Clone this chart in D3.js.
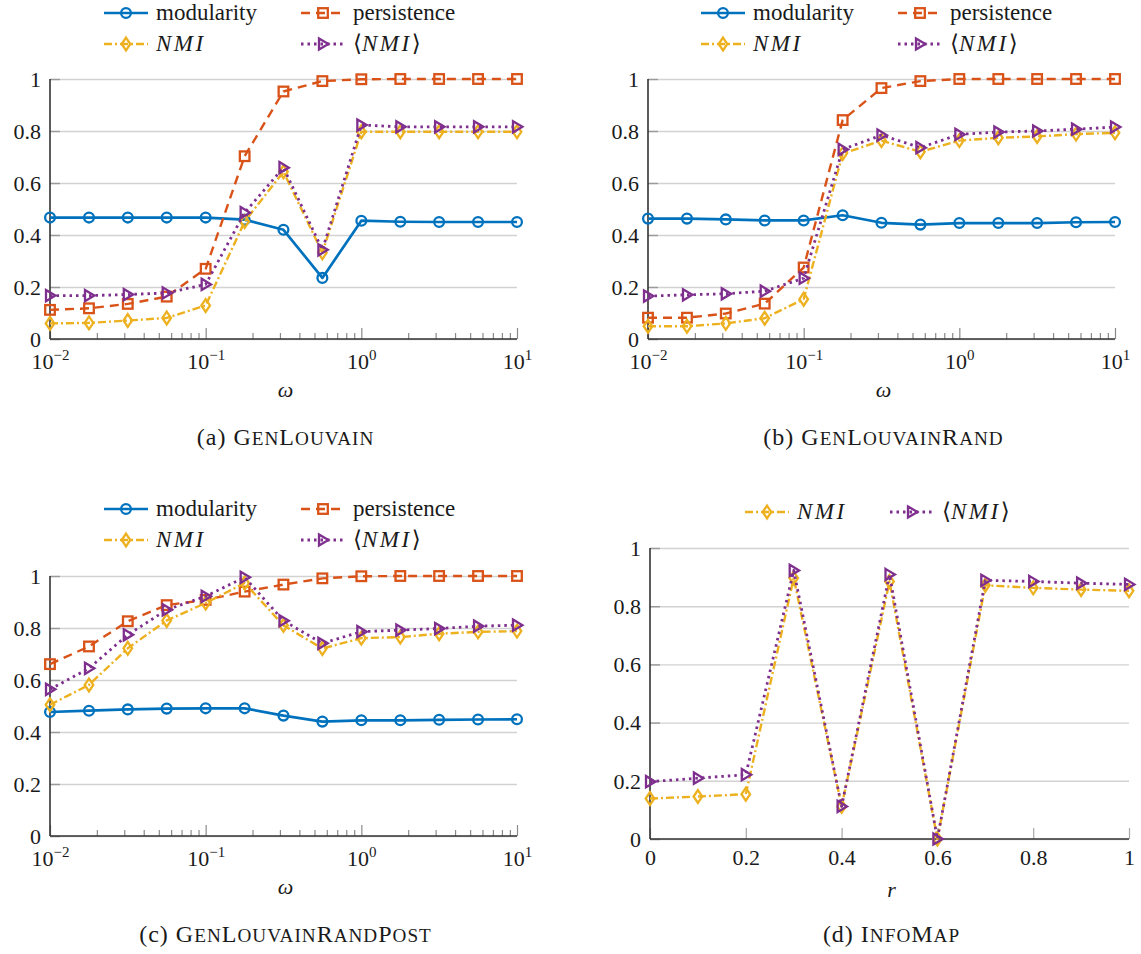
<!DOCTYPE html>
<html>
<head>
<meta charset="utf-8">
<script src="https://cdn.jsdelivr.net/npm/d3@7"></script>
<style>
  body { margin: 0; background: #fff; }
  svg text { font-family: "Times New Roman", Times, "DejaVu Serif", serif; fill: #1a1a1a; }
</style>
</head>
<body>
<div id="wrapper"></div>
<script>
// x values
const omega = [0.01, 0.0178, 0.0316, 0.0562, 0.1, 0.178, 0.316, 0.562, 1, 1.78, 3.16, 5.62, 10]
const rValues = [0, 0.1, 0.2, 0.3, 0.4, 0.5, 0.6, 0.7, 0.8, 0.9, 1]

// (a) GenLouvain
const aModularity  = [0.467, 0.467, 0.467, 0.467, 0.467, 0.459, 0.420, 0.235, 0.455, 0.451, 0.450, 0.450, 0.450]
const aPersistence = [0.112, 0.118, 0.135, 0.163, 0.270, 0.703, 0.952, 0.992, 0.999, 1.000, 1.000, 1.000, 1.000]
const aNMI         = [0.060, 0.062, 0.071, 0.081, 0.129, 0.452, 0.643, 0.332, 0.797, 0.797, 0.797, 0.797, 0.797]
const aMeanNMI     = [0.167, 0.167, 0.171, 0.177, 0.210, 0.486, 0.659, 0.343, 0.823, 0.816, 0.816, 0.816, 0.816]

// (b) GenLouvainRand
const bModularity  = [0.463, 0.463, 0.460, 0.456, 0.456, 0.476, 0.447, 0.440, 0.446, 0.446, 0.446, 0.449, 0.450]
const bPersistence = [0.082, 0.082, 0.098, 0.136, 0.275, 0.842, 0.965, 0.992, 1.000, 1.000, 1.000, 1.000, 1.000]
const bNMI         = [0.049, 0.049, 0.060, 0.080, 0.153, 0.713, 0.763, 0.720, 0.763, 0.774, 0.779, 0.788, 0.793]
const bMeanNMI     = [0.165, 0.170, 0.174, 0.184, 0.234, 0.729, 0.784, 0.736, 0.787, 0.796, 0.800, 0.807, 0.815]

// (c) GenLouvainRandPost
const cModularity  = [0.477, 0.482, 0.487, 0.490, 0.491, 0.491, 0.463, 0.440, 0.445, 0.445, 0.447, 0.448, 0.449]
const cPersistence = [0.661, 0.729, 0.826, 0.888, 0.908, 0.940, 0.967, 0.991, 0.999, 1.000, 1.000, 1.000, 1.000]
const cNMI         = [0.505, 0.581, 0.722, 0.829, 0.896, 0.973, 0.810, 0.721, 0.761, 0.765, 0.778, 0.785, 0.788]
const cMeanNMI     = [0.564, 0.645, 0.774, 0.870, 0.922, 0.995, 0.828, 0.741, 0.786, 0.792, 0.798, 0.807, 0.811]

// (d) InfoMap
const dNMI     = [0.139, 0.146, 0.154, 0.897, 0.112, 0.885, 0.000, 0.872, 0.863, 0.857, 0.853]
const dMeanNMI = [0.197, 0.209, 0.221, 0.923, 0.112, 0.909, 0.000, 0.889, 0.885, 0.879, 0.875]

const yTicks = [0, 0.2, 0.4, 0.6, 0.8, 1]
const logMajor = [0.01, 0.1, 1, 10]
const logExp = ["\u22122", "\u22121", "0", "1"]
const linTicks = [0, 0.2, 0.4, 0.6, 0.8, 1]

// series styles
const styles = {
  modularity:  { label: "modularity",  color: "#0072BD", dash: null,          width: 2.7, marker: "circle" },
  persistence: { label: "persistence", color: "#D95319", dash: "9,6",         width: 2.4, marker: "square" },
  nmi:         { label: "NMI",         color: "#EDB120", dash: "8,3,2,3",     width: 2.4, marker: "diamond", italic: true },
  meanNmi:     { label: "NMI",         color: "#7E2F8E", dash: "2.5,4",       width: 2.8, marker: "triangle", italic: true, brackets: true }
}

const FONT = "'Times New Roman', Times, 'DejaVu Serif', serif"

const svg = d3.select("#wrapper")
  .append("svg")
    .attr("width", 1141)
    .attr("height", 954)
    .style("display", "block")

svg.append("rect").attr("width", 1141).attr("height", 954).attr("fill", "#fff")

function drawMarker(g, type, cx, cy, color) {
  const m = g.append("g").attr("transform", `translate(${cx},${cy})`)
  const common = s => s.attr("fill", "none").attr("stroke", color).attr("stroke-width", 2.3)
  if (type === "circle") {
    common(m.append("circle").attr("r", 4.9))
  } else if (type === "square") {
    common(m.append("rect").attr("x", -4.8).attr("y", -4.8).attr("width", 9.6).attr("height", 9.6))
  } else if (type === "diamond") {
    common(m.append("path").attr("d", "M0,-6.4L4.3,0L0,6.4L-4.3,0Z"))
  } else {
    common(m.append("path").attr("d", "M-4,-5.6L5.4,0L-4,5.6Z"))
  }
}

function labelText(sel, st) {
  if (st.brackets) {
    sel.append("tspan").text("\u27E8")
    sel.append("tspan").style("font-style", "italic").attr("letter-spacing", 2.5).text(st.label)
    sel.append("tspan").text("\u27E9")
  } else if (st.italic) {
    sel.append("tspan").style("font-style", "italic").attr("letter-spacing", 2.5).text(st.label)
  } else {
    sel.text(st.label)
  }
}

// small caps: lowercase letters drawn as reduced capitals
function smallCaps(sel, str) {
  str.split("").forEach(ch => {
    const lower = ch !== ch.toUpperCase()
    sel.append("tspan")
      .style("font-size", lower ? "0.8em" : "1em")
      .text(ch.toUpperCase())
  })
}

function drawLegend(items) {
  items.forEach(it => {
    const st = styles[it.key]
    const g = svg.append("g")
    g.append("line")
      .attr("x1", it.x).attr("x2", it.x + 44)
      .attr("y1", it.y).attr("y2", it.y)
      .attr("stroke", st.color)
      .attr("stroke-width", st.width)
      .attr("stroke-dasharray", st.dash)
    drawMarker(g, st.marker, it.x + 22, it.y, st.color)
    const t = g.append("text")
      .attr("x", it.x + 52)
      .attr("y", it.y + 7)
      .style("font-size", "23px")
    labelText(t, st)
  })
}

function drawPanel(p) {
  const bounds = svg.append("g")
  const xScale = p.log
    ? d3.scaleLog().domain([0.01, 10]).range([p.x0, p.x1])
    : d3.scaleLinear().domain([0, 1]).range([p.x0, p.x1])
  const yScale = d3.scaleLinear().domain([0, 1]).range([p.y0, p.y1])
  const w = p.x1 - p.x0

  // grid lines + y labels
  const grid = bounds.append("g")
    .attr("transform", `translate(${p.x0},0)`)
    .call(d3.axisLeft(yScale).tickValues(yTicks).tickSize(-w).tickFormat(d => d))
  grid.attr("font-family", FONT)
  grid.select(".domain").remove()
  grid.selectAll(".tick line").attr("stroke", "#d2d2d2").attr("stroke-width", 1.4)
  grid.selectAll(".tick text")
    .attr("x", -9)
    .attr("dy", "0.33em")
    .style("font-size", "22px")

  // y tick stubs inside
  const yStubs = bounds.append("g")
    .attr("transform", `translate(${p.x0},0)`)
    .call(d3.axisLeft(yScale).tickValues(yTicks).tickSize(-10).tickFormat(""))
  yStubs.select(".domain").remove()
  yStubs.selectAll(".tick line").attr("stroke", "#9a9a9a").attr("stroke-width", 1.4)

  // x ticks
  if (p.log) {
    const minor = []
    for (let e = -2; e < 1; e++) for (let k = 2; k <= 9; k++) minor.push(k * Math.pow(10, e))
    const minorAxis = bounds.append("g")
      .attr("transform", `translate(0,${p.y0})`)
      .call(d3.axisBottom(xScale).tickValues(minor).tickSize(-6).tickFormat(""))
    minorAxis.select(".domain").remove()
    minorAxis.selectAll(".tick line").attr("stroke", "#8a8a8a").attr("stroke-width", 1.2)

    const majorAxis = bounds.append("g")
      .attr("transform", `translate(0,${p.y0})`)
      .call(d3.axisBottom(xScale).tickValues(logMajor).tickSize(-11).tickFormat(""))
    majorAxis.attr("font-family", FONT)
    majorAxis.select(".domain").remove()
    majorAxis.selectAll(".tick line").attr("stroke", "#8a8a8a").attr("stroke-width", 1.2)
    majorAxis.selectAll(".tick").each(function(d, i) {
      const t = d3.select(this).append("text")
        .attr("y", 30)
        .attr("text-anchor", "middle")
        .style("font-size", "22px")
      t.append("tspan").text("10")
      t.append("tspan").attr("dy", -9).style("font-size", "15px").text(logExp[i])
    })
  } else {
    const xAxis = bounds.append("g")
      .attr("transform", `translate(0,${p.y0})`)
      .call(d3.axisBottom(xScale).tickValues(linTicks).tickSize(-11).tickFormat(d => d))
    xAxis.attr("font-family", FONT)
    xAxis.select(".domain").remove()
    xAxis.selectAll(".tick line").attr("stroke", "#a8a8a8").attr("stroke-width", 1.2)
    xAxis.selectAll(".tick text")
      .attr("y", 10)
      .style("font-size", "22px")
  }

  // axis lines
  bounds.append("line")
    .attr("x1", p.x0).attr("x2", p.x0).attr("y1", p.y0).attr("y2", p.y1)
    .attr("stroke", "#333").attr("stroke-width", 1.6)
  bounds.append("line")
    .attr("x1", p.x0).attr("x2", p.x1).attr("y1", p.y0).attr("y2", p.y0)
    .attr("stroke", "#333").attr("stroke-width", 1.6)

  // series
  const lineGen = d3.line()
    .x(d => xScale(d[0]))
    .y(d => yScale(d[1]))
  p.series.forEach(s => {
    const st = styles[s.key]
    const pts = p.xs.map((x, i) => [x, s.values[i]])
    bounds.append("path")
      .datum(pts)
      .attr("d", lineGen)
      .attr("fill", "none")
      .attr("stroke", st.color)
      .attr("stroke-width", st.width)
      .attr("stroke-dasharray", st.dash)
      .attr("stroke-linejoin", "round")
    pts.forEach(pt => drawMarker(bounds, st.marker, xScale(pt[0]), yScale(pt[1]), st.color))
  })

  // x axis label
  bounds.append("text")
    .attr("x", (p.x0 + p.x1) / 2 + 2)
    .attr("y", p.y0 + 58)
    .attr("text-anchor", "middle")
    .style("font-size", "22px")
    .style("font-style", "italic")
    .text(p.xLabel)

  // caption
  const cap = bounds.append("text")
    .attr("x", (p.x0 + p.x1) / 2 + 2)
    .attr("y", p.capY)
    .attr("text-anchor", "middle")
    .attr("letter-spacing", 1)
    .style("font-size", "24px")
  cap.append("tspan").text(p.capLetter + "\u00A0")
  smallCaps(cap, p.capName)
}

drawPanel({
  log: true, xs: omega, x0: 50, x1: 517, y0: 339, y1: 79, xLabel: "\u03C9",
  capY: 445, capLetter: "(a)", capName: "GenLouvain",
  series: [
    { key: "modularity", values: aModularity },
    { key: "persistence", values: aPersistence },
    { key: "nmi", values: aNMI },
    { key: "meanNmi", values: aMeanNMI }
  ]
})
drawPanel({
  log: true, xs: omega, x0: 648, x1: 1115, y0: 339, y1: 79, xLabel: "\u03C9",
  capY: 445, capLetter: "(b)", capName: "GenLouvainRand",
  series: [
    { key: "modularity", values: bModularity },
    { key: "persistence", values: bPersistence },
    { key: "nmi", values: bNMI },
    { key: "meanNmi", values: bMeanNMI }
  ]
})
drawPanel({
  log: true, xs: omega, x0: 50, x1: 517, y0: 836, y1: 576, xLabel: "\u03C9",
  capY: 942, capLetter: "(c)", capName: "GenLouvainRandPost",
  series: [
    { key: "modularity", values: cModularity },
    { key: "persistence", values: cPersistence },
    { key: "nmi", values: cNMI },
    { key: "meanNmi", values: cMeanNMI }
  ]
})
drawPanel({
  log: false, xs: rValues, x0: 650, x1: 1129, y0: 839, y1: 548, xLabel: "r",
  capY: 942, capLetter: "(d)", capName: "InfoMap",
  series: [
    { key: "nmi", values: dNMI },
    { key: "meanNmi", values: dMeanNMI }
  ]
})

// legends
drawLegend([
  { key: "modularity", x: 104, y: 13 }, { key: "persistence", x: 301, y: 13 },
  { key: "nmi", x: 104, y: 44 }, { key: "meanNmi", x: 301, y: 44 },
  { key: "modularity", x: 701, y: 13 }, { key: "persistence", x: 898, y: 13 },
  { key: "nmi", x: 701, y: 44 }, { key: "meanNmi", x: 898, y: 44 },
  { key: "modularity", x: 104, y: 509 }, { key: "persistence", x: 301, y: 509 },
  { key: "nmi", x: 104, y: 540 }, { key: "meanNmi", x: 301, y: 540 },
  { key: "nmi", x: 745, y: 512 }, { key: "meanNmi", x: 890, y: 512 }
])
</script>
</body>
</html>
